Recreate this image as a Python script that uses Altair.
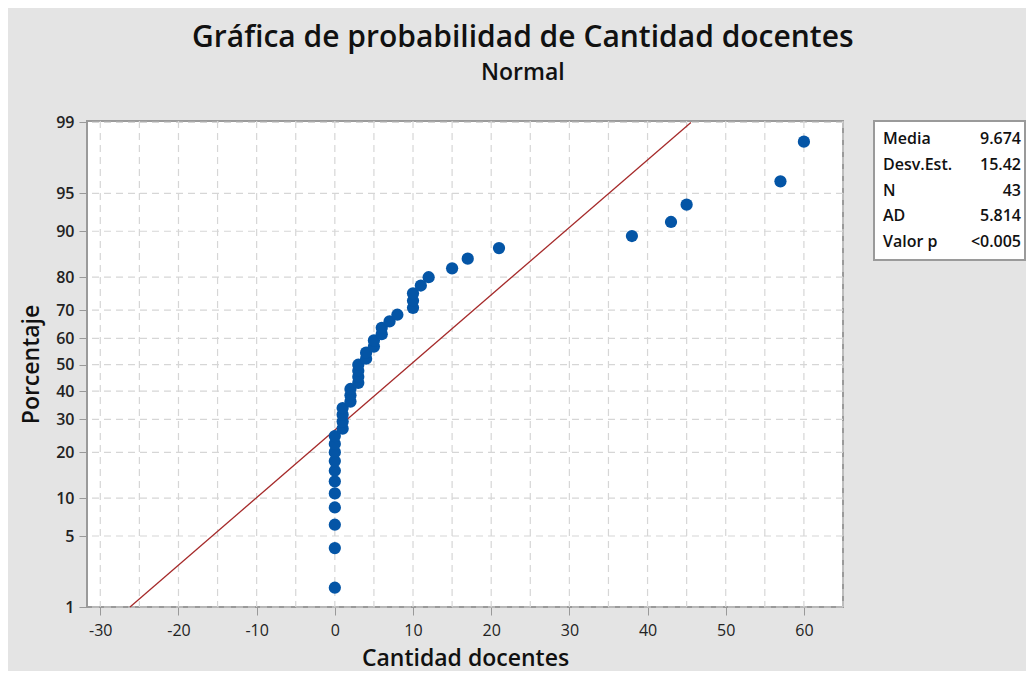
import altair as alt
import pandas as pd
from statistics import NormalDist

# ---- data ----
cantidad_docentes = [0, 0, 0, 0, 0, 0, 0, 0, 0, 0, 0,
                     1, 1, 1, 1, 2, 2, 2, 3, 3, 3, 3, 4, 4, 5, 5, 6, 6, 7, 8,
                     10, 10, 10, 11, 12, 15, 17, 21, 38, 43, 45, 57, 60]
media = 9.674
desv_est = 15.42
stat_labels = ["Media", "Desv.Est.", "N", "AD", "Valor p"]
stat_values = ["9.674", "15.42", "43", "5.814", "<0.005"]
pct_ticks = [1, 5, 10, 20, 30, 40, 50, 60, 70, 80, 90, 95, 99]
x_ticks = [-30, -20, -10, 0, 10, 20, 30, 40, 50, 60]
x_grid = [-30, -25, -20, -15, -10, -5, 0, 5, 10, 15, 20, 25, 30, 35, 40, 45, 50, 55, 60, 65]
line_pcts = [1, 99]

FONT = "Open Sans"
nd = NormalDist()
z_ticks = [nd.inv_cdf(p / 100) for p in pct_ticks]

df = pd.DataFrame({"x": cantidad_docentes})
df_pct = pd.DataFrame({"p": pct_ticks})
df_xg = pd.DataFrame({"x": x_grid})
df_line = pd.DataFrame({"p": line_pcts})

xscale = alt.Scale(domain=[-31.7, 65], nice=False, zero=False)
yscale = alt.Scale(domain=[z_ticks[0], 2.34], nice=False, zero=False)

xaxis = alt.Axis(values=x_ticks, title="Cantidad docentes", grid=False, domain=False,
                 tickSize=8, tickColor="#999999", labelFontSize=16, labelColor="#222222",
                 labelExpr="toString(datum.value)",
                 labelFont=FONT, labelPadding=7, titleFont=FONT, titleFontSize=23,
                 titleFontWeight=600, titleColor="#111111", titlePadding=9)
yaxis = alt.Axis(values=z_ticks, title="Porcentaje", grid=False, domain=False,
                 tickSize=8, tickColor="#999999", labelFontSize=16, labelColor="#222222",
                 labelFont=FONT, labelFontWeight=600, labelPadding=5,
                 labelExpr="round(cumulativeNormal(datum.value)*100)",
                 titleFont=FONT, titleFontSize=23, titleFontWeight=600,
                 titleColor="#111111", titlePadding=12)

dash = [7, 5]
vgrid = alt.Chart(df_xg).mark_rule(color="#d6d6d6", strokeDash=dash, strokeWidth=1.2).encode(
    x=alt.X("x:Q", scale=xscale, axis=xaxis))
hgrid = alt.Chart(df_pct).transform_calculate(
    z="quantileNormal(datum.p/100)").mark_rule(
    color="#d6d6d6", strokeDash=dash, strokeWidth=1.2).encode(
    y=alt.Y("z:Q", scale=yscale, axis=yaxis))

fit = alt.Chart(df_line).transform_calculate(
    z="quantileNormal(datum.p/100)",
    x=f"{media} + {desv_est}*quantileNormal(datum.p/100)").mark_line(
    color="#a52a2a", strokeWidth=1.3).encode(
    x=alt.X("x:Q", scale=xscale), y=alt.Y("z:Q", scale=yscale))

pts = alt.Chart(df).transform_window(
    rank="row_number()", sort=[alt.SortField("x", order="ascending")]
).transform_joinaggregate(n="count()").transform_calculate(
    z="quantileNormal((datum.rank - 0.3)/(datum.n + 0.4))"
).mark_circle(size=150, opacity=1, color="#0455a6").encode(
    x=alt.X("x:Q", scale=xscale), y=alt.Y("z:Q", scale=yscale))

main = alt.layer(vgrid, hgrid, fit, pts).properties(width=756, height=486)

df_stats = pd.DataFrame({"label": stat_labels, "value": stat_values})
ysc = alt.Scale(type="point", domain=stat_labels, padding=0.7)
st_lab = alt.Chart(df_stats).mark_text(align="left", font=FONT, fontSize=16,
                                       fontWeight=600, color="#111111").encode(
    y=alt.Y("label:N", scale=ysc, axis=None, sort=None), x=alt.value(9), text="label:N")
st_val = alt.Chart(df_stats).mark_text(align="right", font=FONT, fontSize=16,
                                       fontWeight=600, color="#111111").encode(
    y=alt.Y("label:N", scale=ysc, axis=None, sort=None), x=alt.value(147), text="value:N")
stats = alt.layer(st_lab, st_val).properties(width=151, height=139)

chart = alt.hconcat(main, stats, spacing=28).properties(
    title=alt.TitleParams(
        text="Gráfica de probabilidad de Cantidad docentes", subtitle="Normal",
        font=FONT, fontSize=30, fontWeight=600, color="#111111",
        subtitleFont=FONT, subtitleFontSize=23, subtitleFontWeight=600,
        subtitleColor="#111111", subtitlePadding=9, anchor="middle", offset=28),
    background="#e4e4e4",
    padding={"left": 11, "top": 15, "right": 0, "bottom": 0},
).configure_view(stroke="#9a9a9a", strokeWidth=2, fill="white")

chart.save("out.html", embed_options={"renderer": "svg", "actions": False})
